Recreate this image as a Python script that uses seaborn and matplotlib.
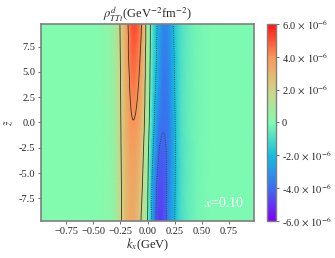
import numpy as np
import matplotlib
matplotlib.use("Agg")
import matplotlib.pyplot as plt
import matplotlib.tri as mtri
import seaborn as sns
from matplotlib.colors import LinearSegmentedColormap
from matplotlib.ticker import FuncFormatter

# grid (values in units of 1e-6 GeV^-2 fm^-2)
kx = [-0.98, -0.7, -0.5, -0.4, -0.3, -0.25, -0.2, -0.15, -0.1, -0.05, 0.0,
      0.05, 0.1, 0.15, 0.2, 0.25, 0.3, 0.4, 0.5, 0.7, 0.98]
z_rows = [-9.75, -6.0, -3.0, 0.0, 3.0, 6.0, 9.75]

rho_zm975 = [0.05, 0.06, 0.08, 0.2, 0.6, 1.75, 2.75, 3.35, 2.95, 1.7, 0.0,
             -2.8, -4.8, -4.6, -3.2, -2.0, -1.1, -0.45, -0.15, -0.07, -0.06]
rho_zm6 = [0.05, 0.06, 0.08, 0.2, 0.65, 1.8, 2.8, 3.45, 3.2, 2.1, 0.2,
           -2.5, -4.4, -4.4, -3.4, -2.1, -1.1, -0.45, -0.15, -0.07, -0.06]
rho_zm3 = [0.05, 0.06, 0.08, 0.2, 0.7, 1.85, 2.9, 3.6, 3.45, 2.4, 0.4,
           -2.0, -3.9, -4.2, -3.5, -2.15, -1.1, -0.45, -0.15, -0.07, -0.06]
rho_z0 = [0.05, 0.06, 0.08, 0.2, 0.75, 1.9, 3.0, 3.9, 3.8, 2.8, 0.7,
          -1.5, -3.4, -3.9, -3.5, -2.1, -1.05, -0.4, -0.15, -0.07, -0.06]
rho_z3 = [0.05, 0.06, 0.08, 0.2, 0.8, 1.95, 3.1, 4.2, 4.15, 3.1, 0.9,
          -1.2, -2.8, -3.8, -3.35, -2.0, -1.0, -0.4, -0.15, -0.07, -0.06]
rho_z6 = [0.05, 0.06, 0.08, 0.2, 0.85, 2.0, 3.2, 4.55, 4.5, 3.4, 1.0,
          -1.0, -2.5, -3.6, -3.2, -1.9, -1.0, -0.4, -0.15, -0.07, -0.06]
rho_z975 = [0.05, 0.06, 0.08, 0.2, 0.9, 2.1, 3.3, 4.9, 5.0, 3.8, 1.15,
            -0.9, -2.3, -3.4, -3.0, -1.7, -1.0, -0.4, -0.15, -0.07, -0.06]

levels = [-4e-6, -2e-6, 0.0, 2e-6, 4e-6]
cbar_ticks = [-6e-6, -4e-6, -2e-6, 0.0, 2e-6, 4e-6, 6e-6]
xticks = [-0.75, -0.5, -0.25, 0.0, 0.25, 0.5, 0.75]
yticks = [-7.5, -5.0, -2.5, 0.0, 2.5, 5.0, 7.5]

rho = np.array([rho_zm975, rho_zm6, rho_zm3, rho_z0,
                rho_z3, rho_z6, rho_z975]) * 1e-6
KX, Z = np.meshgrid(kx, z_rows)

# triangles of the rectangular grid, then let matplotlib smooth the field
# (z is scaled down while smoothing so the cells are not so elongated)
zscale = 0.05
nz, nk = rho.shape
tris = []
for i in range(nz - 1):
    for j in range(nk - 1):
        a = i * nk + j
        tris.append([a, a + 1, a + nk])
        tris.append([a + 1, a + nk + 1, a + nk])
triang = mtri.Triangulation(KX.ravel(), Z.ravel() * zscale, np.array(tris))
refiner = mtri.UniformTriRefiner(triang)
interp = mtri.CubicTriInterpolator(triang, rho.ravel(), kind="geom")
tri_s, rho_fine = refiner.refine_field(rho.ravel(), triinterpolator=interp,
                                       subdiv=3)
tri_fine = mtri.Triangulation(tri_s.x, tri_s.y / zscale, tri_s.triangles)

sns.set_style("ticks")
plt.rcParams["font.family"] = ["Liberation Serif", "DejaVu Serif"]
plt.rcParams["mathtext.fontset"] = "stix"

cmap = LinearSegmentedColormap.from_list(
    "rho", ["#8200fa", "#3c6ef0", "#14bee0", "#80fcb0",
            "#d2d484", "#fa9658", "#ff1414"])

fig = plt.figure(figsize=(3.35, 2.58), dpi=100)
ax = fig.add_axes([0.1224, 0.1434, 0.636, 0.7636])
cax = fig.add_axes([0.7985, 0.1434, 0.0254, 0.7636])

mesh = ax.tripcolor(tri_fine, rho_fine, shading="gouraud", cmap=cmap,
                    vmin=-6e-6, vmax=6e-6, rasterized=True)
ax.tricontour(tri_fine, rho_fine, levels=levels, colors="#333333",
              linewidths=0.6, negative_linestyles="dotted")

ax.set_xlim(-0.98, 0.98)
ax.set_ylim(-9.75, 9.75)
ax.set_xticks(xticks)
ax.set_yticks(yticks)
ax.yaxis.set_major_formatter(FuncFormatter(lambda v, p: f"{v:.1f}"))
ax.tick_params(labelsize=7.5, length=2.5, width=0.6, color="#555555", pad=1.5)
for s in ax.spines.values():
    s.set_color("#7f7f7f")
    s.set_linewidth(1.2)

ax.set_title(r"$\rho^{d}_{TTt}$(GeV$^{-2}$fm$^{-2}$)", fontsize=9, pad=2)
ax.set_xlabel(r"$k_x$(GeV)", fontsize=9, labelpad=1)
ax.set_ylabel(r"$\tilde{z}$", fontsize=8, labelpad=2)
ax.text(0.86, 0.09, r"$x$=0.10", transform=ax.transAxes, color="white",
        fontsize=10, ha="center", va="center")


def cbar_label(v, pos):
    if abs(v) < 1e-12:
        return "0"
    return f"{v / 1e-6:.1f}" + r"$\,\times\,10^{-6}$"


cb = fig.colorbar(mesh, cax=cax, ticks=cbar_ticks)
cb.ax.yaxis.set_major_formatter(FuncFormatter(cbar_label))
cb.ax.tick_params(labelsize=7.5, length=2.5, width=0.6, color="#555555", pad=1.5)
cb.outline.set_edgecolor("#7f7f7f")
cb.outline.set_linewidth(1.0)

fig.savefig("out.png", dpi=100)
